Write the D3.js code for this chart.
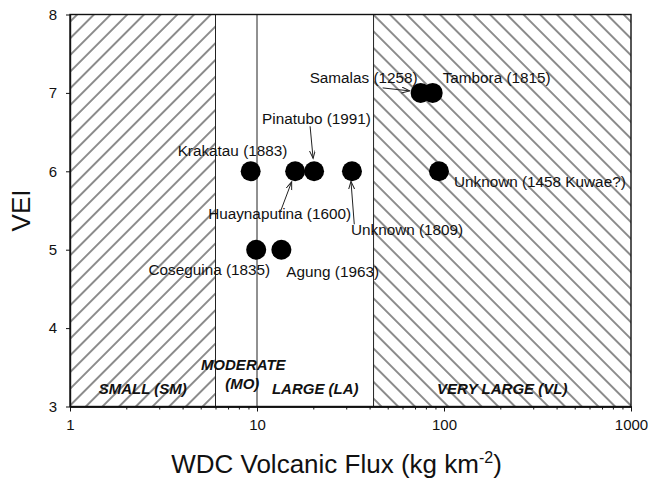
<!DOCTYPE html>
<html>
<head>
<meta charset="utf-8">
<script src="https://cdn.jsdelivr.net/npm/d3@7"></script>
<style>
body { margin: 0; background: #fff; }
text { font-family: "Liberation Sans", Arial, sans-serif; fill: #111; }
</style>
</head>
<body>
<div id="chart"></div>
<script>
// data
var volcanoes = ["Krakatau (1883)", "Huaynaputina (1600)", "Pinatubo (1991)", "Unknown (1809)",
    "Coseguina (1835)", "Agung (1963)", "Samalas (1258)", "Tambora (1815)", "Unknown (1458 Kuwae?)"];
var flux = [9.25, 16.0, 20.2, 32.2, 9.9, 13.5, 75, 87, 94];
var vei = [6, 6, 6, 6, 5, 5, 7, 7, 6];

var classLabels = [["SMALL (SM)"], ["MODERATE", "(MO)"], ["LARGE (LA)"], ["VERY LARGE (VL)"]];
var classBounds = [1, 6, 10, 42, 1000];
var classHatch = ["fwd", null, null, "back"];

var xTicks = [1, 10, 100, 1000];
var yTicks = [3, 4, 5, 6, 7, 8];

// label layout (pixel offsets from each dot), arrows where the figure has them
var labelLayout = [
    { dx: -73, dy: -15, anchor: "start" },
    { dx: -87, dy: 48, anchor: "start", arrow: [-15, 41, -3.5, 10.5] },
    { dx: -52, dy: -47, anchor: "start", arrow: [-4, -45, -1, -13] },
    { dx: -1, dy: 64, anchor: "start", arrow: [2.3, 53, -1, 10] },
    { dx: 14, dy: 25, anchor: "end" },
    { dx: 5, dy: 27, anchor: "start" },
    { dx: -3, dy: -10, anchor: "end", arrow: [-38, -5, -11, -2] },
    { dx: 10, dy: -10, anchor: "start" },
    { dx: 15, dy: 16, anchor: "start" }
];

var width = 648, height = 483;
var margin = { top: 14.5, right: 17, bottom: 76.5, left: 70 };

var svg = d3.select("#chart").append("svg")
    .attr("width", width)
    .attr("height", height);

var x = d3.scaleLog().domain([1, 1000]).range([margin.left, width - margin.right]);
var y = d3.scaleLinear().domain([3, 8]).range([height - margin.bottom, margin.top]);

var defs = svg.append("defs");
function hatch(id, angle) {
    var s = 11.8;
    var p = defs.append("pattern")
        .attr("id", id)
        .attr("patternUnits", "userSpaceOnUse")
        .attr("width", s)
        .attr("height", s)
        .attr("patternTransform", "rotate(" + angle + ")");
    p.append("line")
        .attr("x1", s / 2).attr("y1", 0)
        .attr("x2", s / 2).attr("y2", s)
        .attr("stroke", "#1a1a1a")
        .attr("stroke-width", 1);
}
hatch("fwd", 45);
hatch("back", -45);

defs.append("marker")
    .attr("id", "head")
    .attr("markerUnits", "userSpaceOnUse")
    .attr("markerWidth", 10).attr("markerHeight", 8)
    .attr("refX", 8).attr("refY", 3)
    .attr("orient", "auto")
    .append("path")
    .attr("d", "M0,0 L8,3 L0,6")
    .attr("fill", "none")
    .attr("stroke", "#222")
    .attr("stroke-width", 1);

// class regions
var regions = classLabels.map(function(l, i) {
    return { lines: l, x0: classBounds[i], x1: classBounds[i + 1], hatch: classHatch[i] };
});

svg.selectAll(".region")
    .data(regions.filter(function(d) { return d.hatch; }))
    .enter()
    .append("rect")
    .attr("class", "region")
    .attr("x", function(d) { return x(d.x0); })
    .attr("width", function(d) { return x(d.x1) - x(d.x0); })
    .attr("y", y(8))
    .attr("height", y(3) - y(8))
    .attr("fill", function(d) { return "url(#" + d.hatch + ")"; });

svg.selectAll(".bound")
    .data(classBounds.slice(1, -1))
    .enter()
    .append("line")
    .attr("class", "bound")
    .attr("x1", function(d) { return x(d); })
    .attr("x2", function(d) { return x(d); })
    .attr("y1", y(8))
    .attr("y2", y(3))
    .attr("stroke", "#222")
    .attr("stroke-width", 1);

// region labels
var regionText = svg.selectAll(".rlabel")
    .data(regions)
    .enter()
    .append("text")
    .attr("class", "rlabel")
    .attr("text-anchor", "middle")
    .style("font-size", "15px")
    .style("font-weight", "bold")
    .style("font-style", "italic");

regionText.each(function(d) {
    var cx = (x(d.x0) + x(d.x1)) / 2;
    var n = d.lines.length;
    d3.select(this).selectAll("tspan")
        .data(d.lines)
        .enter()
        .append("tspan")
        .attr("x", function(t, j) { return cx + (n > 1 ? (j === 0 ? 7 : 6) : 0); })
        .attr("y", function(t, j) { return y(3) - 13 - (n - 1 - j) * 18.5 - (n > 1 ? 5 : 0); })
        .text(function(t) { return t; });
});

// frame
svg.append("rect")
    .attr("x", x(1))
    .attr("y", y(8))
    .attr("width", x(1000) - x(1))
    .attr("height", y(3) - y(8))
    .attr("fill", "none")
    .attr("stroke", "#111")
    .attr("stroke-width", 1.4);

// axes
svg.append("g")
    .attr("transform", "translate(0," + y(3) + ")")
    .call(d3.axisBottom(x).tickValues(xTicks).tickFormat(d3.format("d")).tickSize(5).tickSizeOuter(0).tickPadding(8));

var minor = [];
[1, 10, 100].forEach(function(dec) {
    for (var k = 2; k <= 9; k++) minor.push(dec * k);
});
svg.append("g")
    .attr("transform", "translate(0," + y(3) + ")")
    .call(d3.axisBottom(x).tickValues(minor).tickFormat("").tickSize(3).tickSizeOuter(0));

svg.append("g")
    .attr("transform", "translate(" + x(1) + ",0)")
    .call(d3.axisLeft(y).tickValues(yTicks).tickFormat(d3.format("d")).tickSize(4).tickSizeOuter(0).tickPadding(9));

svg.selectAll(".domain").attr("stroke", "#111").attr("stroke-width", 1.4);
svg.selectAll(".tick line").attr("stroke", "#111");
svg.selectAll(".tick text")
    .style("font-size", "15px")
    .style("font-family", "'Liberation Sans', Arial, sans-serif")
    .attr("fill", "#111");

// axis titles
var xt = svg.append("text")
    .attr("x", (x(1) + x(1000)) / 2 - 14)
    .attr("y", 473)
    .attr("text-anchor", "middle")
    .style("font-size", "26px");
xt.append("tspan").text("WDC Volcanic Flux (kg km");
xt.append("tspan").attr("dy", -10).style("font-size", "16px").text("-2");
xt.append("tspan").attr("dy", 10).text(")");

svg.append("text")
    .attr("transform", "translate(30," + (y(3) + y(8)) / 2 + ") rotate(-90)")
    .attr("text-anchor", "middle")
    .style("font-size", "26px")
    .text("VEI");

// points
var points = volcanoes.map(function(name, i) {
    return { name: name, flux: flux[i], vei: vei[i], lay: labelLayout[i] };
});

svg.selectAll(".dot")
    .data(points)
    .enter()
    .append("circle")
    .attr("class", "dot")
    .attr("cx", function(d) { return x(d.flux); })
    .attr("cy", function(d) { return y(d.vei); })
    .attr("r", 10)
    .attr("fill", "#000");

svg.selectAll(".plabel")
    .data(points)
    .enter()
    .append("text")
    .attr("class", "plabel")
    .attr("x", function(d) { return x(d.flux) + d.lay.dx; })
    .attr("y", function(d) { return y(d.vei) + d.lay.dy; })
    .attr("text-anchor", function(d) { return d.lay.anchor; })
    .style("font-size", "15.3px")
    .text(function(d) { return d.name; });

svg.selectAll(".arrow")
    .data(points.filter(function(d) { return d.lay.arrow; }))
    .enter()
    .append("line")
    .attr("class", "arrow")
    .attr("x1", function(d) { return x(d.flux) + d.lay.arrow[0]; })
    .attr("y1", function(d) { return y(d.vei) + d.lay.arrow[1]; })
    .attr("x2", function(d) { return x(d.flux) + d.lay.arrow[2]; })
    .attr("y2", function(d) { return y(d.vei) + d.lay.arrow[3]; })
    .attr("stroke", "#222")
    .attr("stroke-width", 1)
    .attr("marker-end", "url(#head)");
</script>
</body>
</html>
